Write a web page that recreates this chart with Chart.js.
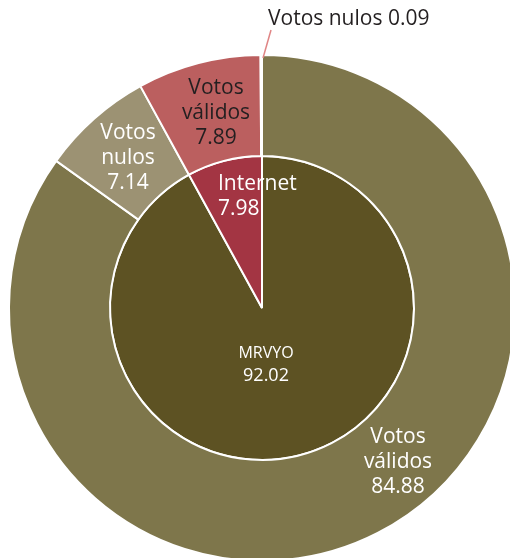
<!DOCTYPE html>
<html>
<head>
<meta charset="utf-8">
<script src="https://cdn.jsdelivr.net/npm/chart.js@4"></script>
<style>
  html, body { margin: 0; padding: 0; background: #fff; overflow: hidden; }
  #wrap { position: absolute; left: 0; top: 0; width: 530px; height: 620px; }
</style>
</head>
<body>
<div id="wrap"><canvas id="pieChart" width="530" height="620"></canvas></div>
<script>
// Anillo exterior (tipo de voto)
const outerLabels = ["Votos válidos", "Votos nulos", "Votos válidos", "Votos nulos"];
const outerValues = [84.88, 7.14, 7.89, 0.09];
const outerColors = ["#7e764b", "#9c9273", "#bb5f5f", "#e39a9a"];

// Círculo interior (modalidad)
const innerLabels = ["MRVyO", "Internet"];
const innerValues = [92.02, 7.98];
const innerColors = ["#5d5223", "#a33543"];

// Posición de las etiquetas, relativa al centro del gráfico
const labelSpots = {
  outer: [
    { dx: 136, dy: 154, color: "#fff", align: "center" },
    { dx: -134, dy: -150, color: "#fff", align: "center" },
    { dx: -46, dy: -195, color: "#231f20", align: "center" },
    { dx: 6, dy: -289, color: "#231f20", align: "left", inline: true },
  ],
  inner: [
    { dx: 4, dy: 45, color: "#fff", align: "center", small: true },
    { dx: -44, dy: -111, color: "#fff", align: "left" },
  ],
};

const FONT = "'Open Sans', 'Noto Sans', sans-serif";

const labelPlugin = {
  id: "labels",
  afterDatasetsDraw(chart) {
    const ctx = chart.ctx;
    const meta0 = chart.getDatasetMeta(0);
    const cx = meta0.data[0].x;
    const cy = meta0.data[0].y;
    const outerR = meta0.data[0].outerRadius;

    ctx.save();
    ctx.textBaseline = "middle";

    const sets = [
      { labels: outerLabels, values: outerValues, spots: labelSpots.outer },
      { labels: innerLabels, values: innerValues, spots: labelSpots.inner },
    ];

    sets.forEach((s) => {
      s.labels.forEach((lab, i) => {
        const sp = s.spots[i];
        const x = cx + sp.dx;
        const y = cy + sp.dy;
        ctx.fillStyle = sp.color;
        ctx.textAlign = sp.align;
        const val = s.values[i].toFixed(2);
        if (sp.inline) {
          // línea guía para la porción muy pequeña
          ctx.strokeStyle = "#e08585";
          ctx.lineWidth = 1.5;
          ctx.beginPath();
          ctx.moveTo(cx + 1, cy - outerR + 3);
          ctx.lineTo(cx + 9, cy - outerR - 25);
          ctx.stroke();
          ctx.font = "21px " + FONT;
          ctx.fillText(lab + " " + val, x, y);
          return;
        }
        if (sp.small) {
          ctx.font = "16px " + FONT;
          ctx.fillText(lab.toUpperCase(), x, y);
          ctx.font = "18px " + FONT;
          ctx.fillText(val, x, y + 23);
          return;
        }
        ctx.font = "21px " + FONT;
        const lines = lab.split(" ").concat([val]);
        lines.forEach((ln, k) => {
          ctx.fillText(ln, x, y + (k - (lines.length - 1) / 2) * 25);
        });
      });
    });
    ctx.restore();
  },
};

window.onload = () => {
  const ctx = document.getElementById("pieChart").getContext("2d");
  new Chart(ctx, {
    type: "pie",
    data: {
      labels: outerLabels,
      datasets: [
        {
          data: outerValues,
          backgroundColor: outerColors,
          borderColor: "#fff",
          borderWidth: 2,
          weight: 101,
        },
        {
          data: innerValues,
          backgroundColor: innerColors,
          borderColor: "#fff",
          borderWidth: 2,
          weight: 152,
        },
      ],
    },
    options: {
      responsive: false,
      animation: false,
      cutout: 0,
      layout: { padding: { left: 8, top: 54, right: 14, bottom: 58 } },
      plugins: {
        legend: { display: false },
        tooltip: { enabled: false },
      },
    },
    plugins: [labelPlugin],
  });
};
</script>
</body>
</html>
